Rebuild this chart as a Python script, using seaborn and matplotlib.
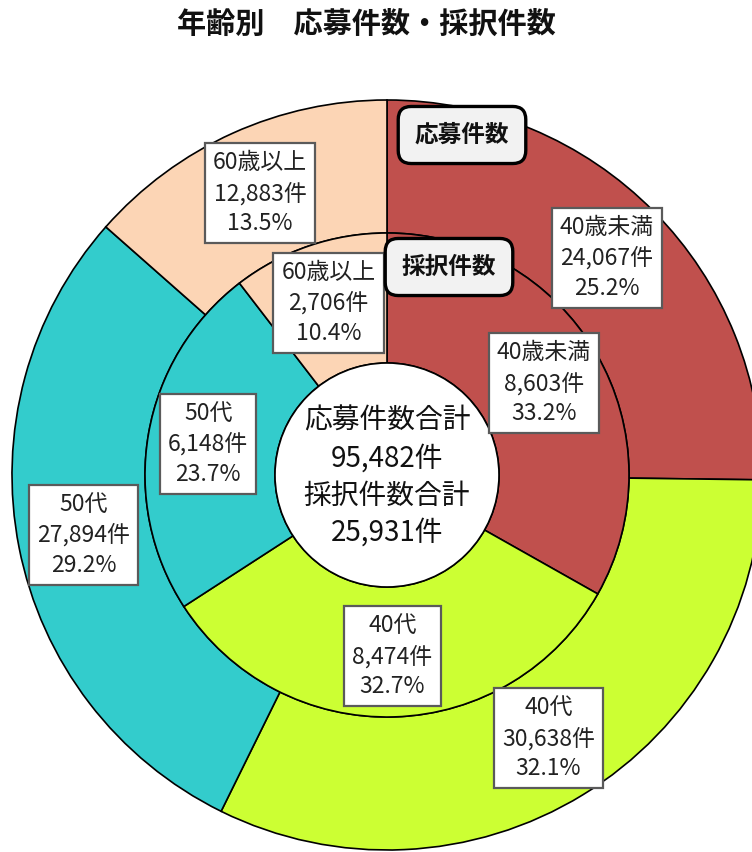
import matplotlib.pyplot as plt
import seaborn as sns

# data
categories = ["40歳未満", "40代", "50代", "60歳以上"]
apply_counts = [24067, 30638, 27894, 12883]
apply_pct = [25.2, 32.1, 29.2, 13.5]
adopt_counts = [8603, 8474, 6148, 2706]
adopt_pct = [33.2, 32.7, 23.7, 10.4]
apply_total = 95482
adopt_total = 25931
colors = ["#C0504D", "#CCFF33", "#33CCCC", "#FCD5B5"]

sns.set_theme(style="white")
plt.rcParams['font.family'] = ['Noto Sans CJK JP', 'DejaVu Sans']

fig = plt.figure(figsize=(7.52, 8.52), dpi=100)
ax = fig.add_axes([0, 0, 1, 1])

# pixel-like data units, y up
cx, cy = 387, 377
r_out, r_mid, r_in = 375, 242, 112

def make_labels(cats, counts, pcts):
    return [f"{c}\n{n:,}件\n{p:.1f}%" for c, n, p in zip(cats, counts, pcts)]

box = dict(boxstyle="square,pad=0.35", facecolor="white",
           edgecolor="#5a5a5a", linewidth=1.6)
txt = dict(fontsize=16.5, ha="center", va="center", color="#222222",
           linespacing=1.4, bbox=box)

edge = dict(edgecolor="black", linewidth=1.2)

ax.pie(apply_counts, colors=colors, radius=r_out, center=(cx, cy),
       startangle=90, counterclock=False,
       labels=make_labels(categories, apply_counts, apply_pct),
       labeldistance=0.824, textprops=txt,
       wedgeprops=dict(width=r_out - r_mid, **edge))
ax.pie(adopt_counts, colors=colors, radius=r_mid, center=(cx, cy),
       startangle=90, counterclock=False,
       labels=make_labels(categories, adopt_counts, adopt_pct),
       labeldistance=0.75, textprops=txt,
       wedgeprops=dict(width=r_mid - r_in, **edge))

ax.add_patch(plt.Circle((cx, cy), r_in, facecolor="white", **edge))
ax.text(cx, cy - 2,
        f"応募件数合計\n{apply_total:,}件\n採択件数合計\n{adopt_total:,}件",
        ha="center", va="center", fontsize=20, color="#111111",
        linespacing=1.32)

# series name tags
tag = dict(boxstyle="round,pad=0.7,rounding_size=0.55", facecolor="#F2F2F2",
           edgecolor="black", linewidth=2.4)
ax.text(462, 717, "応募件数", ha="center", va="center", fontsize=17,
        fontweight="bold", color="#111111", bbox=tag)
ax.text(449, 585, "採択件数", ha="center", va="center", fontsize=17,
        fontweight="bold", color="#111111", bbox=tag)

ax.set_xlim(0, 752)
ax.set_ylim(0, 852)
ax.set_aspect("equal")
ax.axis("off")

fig.text(0.487, 1 - 24 / 852, "年齢別　応募件数・採択件数", ha="center",
         va="center", fontsize=21, fontweight="bold", color="#111111")

fig.savefig("out.png", dpi=100)
